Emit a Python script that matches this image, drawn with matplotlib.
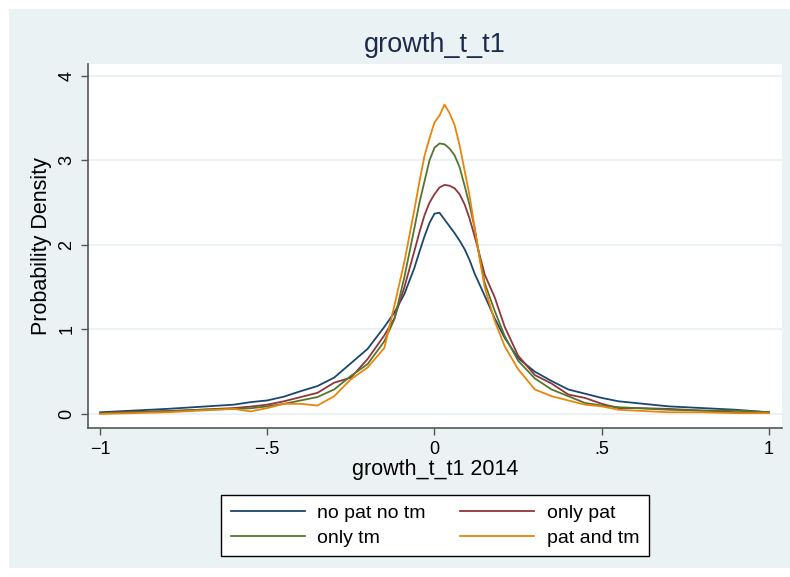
"""Kernel density of growth_t_t1 (2014) by patent / trademark group, Stata s2color look."""
import matplotlib

matplotlib.use("Agg")

import matplotlib.pyplot as plt
from matplotlib.patches import Rectangle

plt.rcParams["font.family"] = ["Liberation Sans", "DejaVu Sans"]

# values
grid_x = [-1.0, -0.9, -0.8, -0.7, -0.6, -0.55, -0.5, -0.45, -0.4, -0.35,
          -0.3, -0.25, -0.2, -0.15, -0.12, -0.09, -0.06, -0.045, -0.03,
          -0.015, 0.0, 0.015, 0.03, 0.045, 0.06, 0.075, 0.09, 0.105, 0.12,
          0.135, 0.15, 0.18, 0.21, 0.25, 0.3, 0.35, 0.4,
          0.45, 0.5, 0.55, 0.6, 0.7, 0.8, 0.9, 1.0]

no_pat_no_tm = [0.02, 0.04, 0.06, 0.085, 0.11, 0.14, 0.16, 0.205, 0.27, 0.33,
                0.43, 0.60, 0.77, 1.03, 1.20, 1.42, 1.73, 1.92, 2.10,
                2.26, 2.37, 2.38, 2.30, 2.22, 2.14, 2.05, 1.95, 1.82, 1.66,
                1.53, 1.40, 1.13, 0.90, 0.66, 0.50, 0.39, 0.29,
                0.24, 0.19, 0.15, 0.13, 0.09, 0.07, 0.05, 0.02]

only_pat = [0.01, 0.025, 0.035, 0.05, 0.07, 0.087, 0.11, 0.15, 0.20, 0.25,
            0.37, 0.43, 0.65, 0.93, 1.13, 1.50, 1.93, 2.15, 2.35,
            2.50, 2.60, 2.68, 2.71, 2.70, 2.67, 2.60, 2.48, 2.31, 2.10,
            1.88, 1.65, 1.38, 1.03, 0.69, 0.46, 0.36, 0.23,
            0.19, 0.12, 0.07, 0.07, 0.06, 0.04, 0.02, 0.02]

only_tm = [0.01, 0.02, 0.03, 0.05, 0.06, 0.067, 0.09, 0.12, 0.16, 0.20,
           0.29, 0.45, 0.59, 0.86, 1.12, 1.62, 2.20, 2.50, 2.75,
           3.00, 3.15, 3.20, 3.19, 3.14, 3.06, 2.92, 2.70, 2.47, 2.20,
           1.85, 1.55, 1.22, 0.92, 0.63, 0.42, 0.29, 0.21,
           0.13, 0.10, 0.08, 0.07, 0.05, 0.04, 0.04, 0.02]

pat_and_tm = [0.0, 0.01, 0.02, 0.04, 0.06, 0.03, 0.07, 0.12, 0.12, 0.10,
              0.21, 0.41, 0.55, 0.78, 1.28, 1.80, 2.42, 2.75, 3.05,
              3.26, 3.45, 3.53, 3.66, 3.56, 3.42, 3.18, 2.88, 2.58, 2.20,
              1.84, 1.50, 1.10, 0.80, 0.53, 0.29, 0.21, 0.16,
              0.11, 0.09, 0.05, 0.04, 0.02, 0.02, 0.01, 0.01]

series_labels = ["no pat no tm", "only pat", "only tm", "pat and tm"]
series_colors = ["#1a476f", "#90353b", "#55752f", "#e8850a"]

x_ticks = [-1, -0.5, 0, 0.5, 1]
x_tick_labels = ["\u22121", "\u2212.5", "0", ".5", "1"]
y_ticks = [0, 1, 2, 3, 4]

BG = "#eaf2f3"
AXC = "#555555"


def main() -> None:
    fig = plt.figure(figsize=(7.9, 5.77), dpi=100)
    W, H = 790, 577
    fig.patches.append(Rectangle((9 / W, 9 / H), 1 - 9 / W, 1 - 18 / H,
                                 transform=fig.transFigure, facecolor=BG,
                                 edgecolor="none", zorder=-10))

    ax = fig.add_axes([88 / W, 1 - 428 / H, (782 - 88) / W, (428 - 64) / H])
    ax.set_facecolor("white")

    lines = []
    for ys, lab, col in zip([no_pat_no_tm, only_pat, only_tm, pat_and_tm],
                            series_labels, series_colors):
        ln, = ax.plot(grid_x, ys, color=col, lw=1.3, label=lab, zorder=3,
                      solid_joinstyle="round")
        lines.append(ln)

    ax.set_xlim(-1.036, 1.039)
    ax.set_ylim(-0.166, 4.14)
    ax.set_xticks(x_ticks)
    ax.set_xticklabels(x_tick_labels)
    ax.set_yticks(y_ticks)
    ax.set_yticklabels([str(v) for v in y_ticks], rotation=90, va="center")
    ax.grid(axis="y", color=BG, lw=1.5, zorder=1)
    ax.set_axisbelow(True)

    for side in ["top", "right"]:
        ax.spines[side].set_visible(False)
    for side in ["left", "bottom"]:
        ax.spines[side].set_color(AXC)
        ax.spines[side].set_linewidth(1.2)
    ax.tick_params(direction="out", length=5, width=1, color=AXC,
                   labelsize=13, pad=4)

    ax.set_xlabel("growth_t_t1 2014", fontsize=15.5, labelpad=1)
    ax.set_ylabel("Probability Density", fontsize=15.5, labelpad=5)
    ax.set_title("growth_t_t1", fontsize=19.5, color="#1c2b4c", pad=9)

    # legend filled row-wise like Stata: reorder for matplotlib's column fill
    order = [0, 2, 1, 3]
    leg = fig.legend([lines[i] for i in order],
                     [series_labels[i] for i in order],
                     loc="center", bbox_to_anchor=(435 / W, 1 - 525.5 / H),
                     ncol=2, fontsize=14, frameon=True, fancybox=False,
                     edgecolor="black", facecolor="white", framealpha=1,
                     handlelength=3.8, handletextpad=0.65, columnspacing=1.75,
                     labelspacing=0.35, borderpad=0.5)
    leg.get_frame().set_linewidth(1.0)

    fig.savefig("out.png", dpi=100)
    plt.close(fig)


if __name__ == "__main__":
    main()
